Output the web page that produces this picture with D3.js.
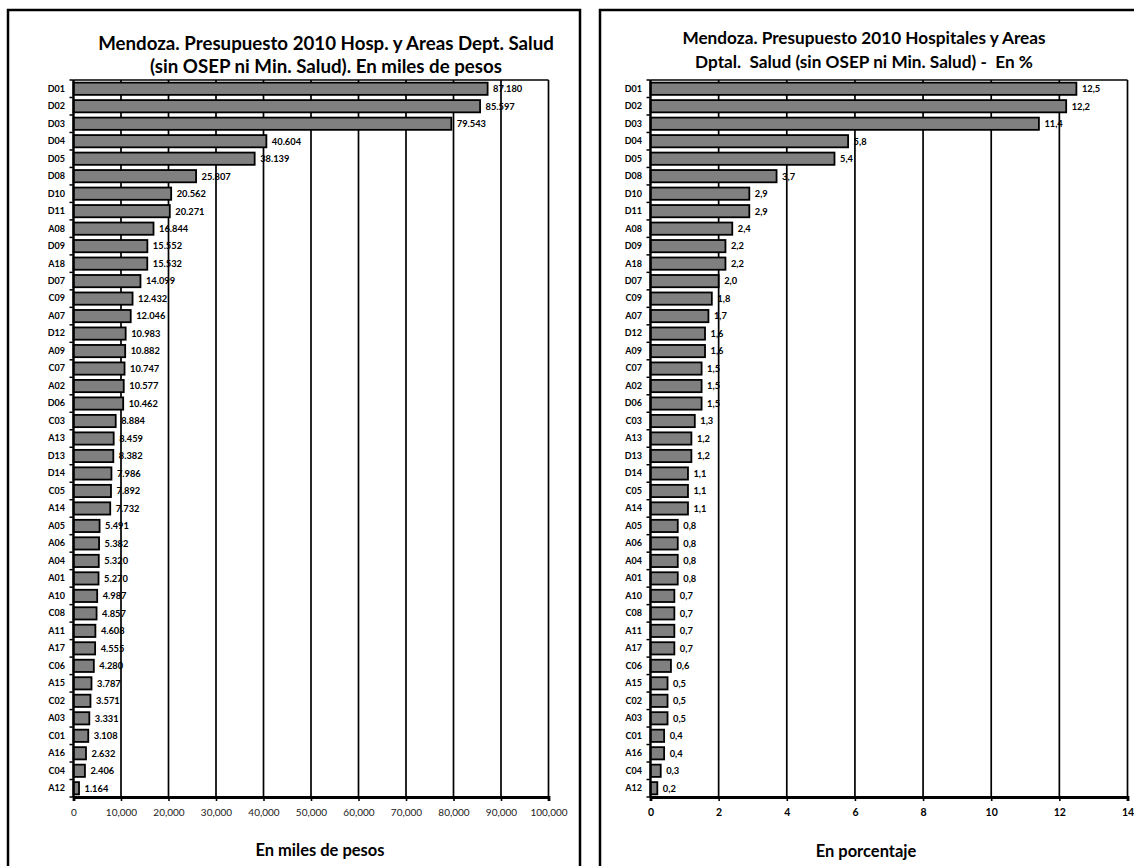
<!DOCTYPE html>
<html>
<head>
<meta charset="utf-8">
<script src="https://cdn.jsdelivr.net/npm/d3@7"></script>
<style>
  html, body { margin: 0; padding: 0; background: #fff; }
  svg { display: block; font-family: Lato, "Open Sans", sans-serif; }
  text { white-space: pre; }
</style>
</head>
<body>
<svg id="chart" width="1134" height="866"></svg>
<script>
// Hospitals / departmental health areas, sorted by 2010 budget
const categories = ["D01","D02","D03","D04","D05","D08","D10","D11","A08","D09","A18","D07","C09","A07","D12","A09","C07","A02","D06","C03","A13","D13","D14","C05","A14","A05","A06","A04","A01","A10","C08","A11","A17","C06","A15","C02","A03","C01","A16","C04","A12"];

// Budget in thousands of pesos
const pesosValues = [87180,85597,79543,40604,38139,25807,20562,20271,16844,15552,15532,14099,12432,12046,10983,10882,10747,10577,10462,8884,8459,8382,7986,7892,7732,5491,5382,5320,5270,4987,4857,4608,4555,4280,3787,3571,3331,3108,2632,2406,1164];

// Share of the total, in percent
const percentValues = [12.5,12.2,11.4,5.8,5.4,3.7,2.9,2.9,2.4,2.2,2.2,2.0,1.8,1.7,1.6,1.6,1.5,1.5,1.5,1.3,1.2,1.2,1.1,1.1,1.1,0.8,0.8,0.8,0.8,0.7,0.7,0.7,0.7,0.6,0.5,0.5,0.5,0.4,0.4,0.3,0.2];

const pesosTicks = [0,10000,20000,30000,40000,50000,60000,70000,80000,90000,100000];
const percentTicks = [0,2,4,6,8,10,12,14];

const pesosTitle = ["Mendoza. Presupuesto 2010 Hosp. y Areas Dept. Salud", "(sin OSEP ni Min. Salud). En miles de pesos"];
const percentTitle = ["Mendoza. Presupuesto 2010 Hospitales y Areas", "Dptal.  Salud (sin OSEP ni Min. Salud) -  En %"];

const esLocale = d3.formatLocale({ decimal: ",", thousands: ".", grouping: [3], currency: ["$", ""] });
const fmtPesos = esLocale.format(",d");
const fmtPercent = esLocale.format(".1f");
const fmtPesosTick = d3.format(",d");

const svg = d3.select("#chart");

function drawPanel(opt) {
  const g = svg.append("g");

  // panel frame
  g.append("rect")
    .attr("x", opt.frame[0]).attr("y", opt.frame[1])
    .attr("width", opt.frame[2]).attr("height", opt.frame[3])
    .attr("fill", "#fff").attr("stroke", "#000").attr("stroke-width", 2.5);

  const x = d3.scaleLinear().domain(opt.domain).range([opt.left, opt.right]);
  const y = d3.scaleBand().domain(categories).range([opt.top, opt.bottom])
    .paddingInner(0.3).paddingOuter(0.15);

  // vertical gridlines
  g.append("g").selectAll("line").data(opt.ticks.slice(1)).join("line")
    .attr("x1", d => x(d)).attr("x2", d => x(d))
    .attr("y1", opt.top).attr("y2", opt.bottom)
    .attr("stroke", "#000").attr("stroke-width", 1.7);

  // plot area top border
  g.append("line")
    .attr("x1", opt.left).attr("x2", opt.right)
    .attr("y1", opt.top).attr("y2", opt.top)
    .attr("stroke", "#000").attr("stroke-width", 1.7);

  // bars
  g.append("g").selectAll("rect").data(opt.values).join("rect")
    .attr("x", x(0))
    .attr("y", (d, i) => y(categories[i]))
    .attr("width", d => x(d) - x(0))
    .attr("height", y.bandwidth())
    .attr("fill", "#808080").attr("stroke", "#000").attr("stroke-width", 1.8);

  // value labels
  g.append("g").selectAll("text").data(opt.values).join("text")
    .attr("x", d => x(d) + 5.5)
    .attr("y", (d, i) => y(categories[i]) + y.bandwidth() / 2)
    .attr("dy", "0.36em")
    .attr("font-size", 9.3).attr("font-weight", 700).attr("fill", "#000")
    .text(d => opt.valueFormat(d));

  // category axis
  const yAxis = g.append("g").attr("transform", `translate(${opt.left},0)`)
    .call(d3.axisLeft(y).tickSize(0).tickPadding(8.5));
  yAxis.select(".domain").remove();
  yAxis.selectAll("text").attr("font-size", 9).attr("font-weight", 700)
    .attr("font-family", "Lato, sans-serif").attr("fill", "#000");

  // category boundary ticks
  const step = y.step();
  const bounds = d3.range(categories.length + 1).map(i => opt.top + i * step);
  g.append("g").selectAll("line").data(bounds).join("line")
    .attr("x1", opt.left - 4).attr("x2", opt.left)
    .attr("y1", d => d).attr("y2", d => d)
    .attr("stroke", "#000").attr("stroke-width", 1.5);
  g.append("line")
    .attr("x1", opt.left).attr("x2", opt.left)
    .attr("y1", opt.top).attr("y2", opt.bottom)
    .attr("stroke", "#000").attr("stroke-width", 2.4);

  // value axis
  const xAxis = g.append("g").attr("transform", `translate(0,${opt.bottom})`)
    .call(d3.axisBottom(x).tickValues(opt.ticks).tickSize(4).tickPadding(8).tickFormat(opt.tickFormat));
  xAxis.select(".domain").attr("stroke-width", 2.8);
  xAxis.selectAll(".tick line").attr("stroke-width", 1.6);
  xAxis.selectAll("text").attr("font-size", opt.tickFontSize).attr("font-weight", opt.tickWeight)
    .attr("font-family", "Lato, sans-serif").attr("fill", opt.tickColor);

  // two-line title
  g.append("g").selectAll("text").data(opt.title).join("text")
    .attr("x", opt.titleX)
    .attr("y", (d, i) => opt.titleY + i * opt.titleGap)
    .attr("text-anchor", "middle")
    .attr("font-size", opt.titleSize).attr("font-weight", 700).attr("fill", "#000")
    .text(d => d);

  // axis title
  g.append("text")
    .attr("x", opt.axisTitleX).attr("y", opt.axisTitleY)
    .attr("text-anchor", "middle")
    .attr("font-size", opt.axisTitleSize).attr("font-weight", 700).attr("fill", "#000")
    .text(opt.axisTitle);
}

drawPanel({
  frame: [8, 10, 572, 880],
  domain: [0, 100000], ticks: pesosTicks,
  left: 73.5, right: 548.5, top: 80, bottom: 797,
  values: pesosValues, valueFormat: fmtPesos,
  tickFormat: fmtPesosTick, tickFontSize: 10, tickWeight: 400, tickColor: "#222",
  title: pesosTitle, titleX: 326, titleY: 50, titleGap: 23, titleSize: 18.7,
  axisTitle: "En miles de pesos", axisTitleX: 320, axisTitleY: 856, axisTitleSize: 16.5
});

drawPanel({
  frame: [600, 10, 560, 880],
  domain: [0, 14], ticks: percentTicks,
  left: 650.5, right: 1127.5, top: 80, bottom: 797,
  values: percentValues, valueFormat: fmtPercent,
  tickFormat: d3.format("d"), tickFontSize: 10.5, tickWeight: 700, tickColor: "#000",
  title: percentTitle, titleX: 864, titleY: 44, titleGap: 24, titleSize: 17.2,
  axisTitle: "En porcentaje", axisTitleX: 866, axisTitleY: 857, axisTitleSize: 16.5
});
</script>
</body>
</html>
